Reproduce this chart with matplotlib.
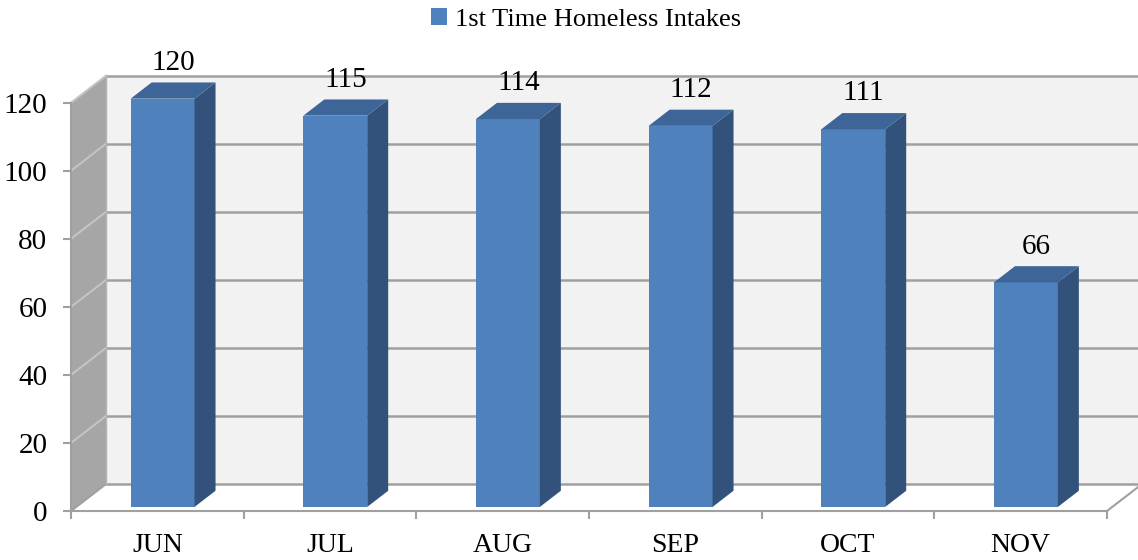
"""Excel-style 3D column chart of first-time homeless intakes, drawn in 2D."""

import matplotlib

matplotlib.use("Agg")
import matplotlib.pyplot as plt
from matplotlib.patches import Patch, Polygon, Rectangle

months = ["JUN", "JUL", "AUG", "SEP", "OCT", "NOV"]
intakes = [120, 115, 114, 112, 111, 66]
series_name = "1st Time Homeless Intakes"
y_ticks = [0, 20, 40, 60, 80, 100, 120]

FRONT = "#4F81BD"
SIDE = "#32527B"
TOP = "#3D6597"
WALL_BACK = "#F2F2F2"
WALL_LEFT = "#A6A6A6"
GRID = "#A0A0A0"

plt.rcParams["font.family"] = ["Liberation Serif", "DejaVu Serif"]

fig = plt.figure(figsize=(11.38, 5.6), dpi=100)
ax = fig.add_axes([71 / 1138, 49 / 560, 1036 / 1138, 408.3 / 560])
n = len(months)
ymax = y_ticks[-1]
ax.set_xlim(0, n)
ax.set_ylim(0, ymax)

# depth of the box in data units (3D offset of back wall)
DX = 35 / (1036 / n)
DY = 27 / (408.3 / ymax)

# back wall and left wall
ax.add_patch(Rectangle((DX, DY), n, ymax, facecolor=WALL_BACK, edgecolor="none",
                       zorder=0, clip_on=False))
ax.add_patch(Polygon([(0, 0), (DX, DY), (DX, ymax + DY), (0, ymax)], closed=True,
                     facecolor=WALL_LEFT, edgecolor="none", zorder=0, clip_on=False))
# floor
ax.add_patch(Polygon([(0, 0), (n, 0), (n + DX, DY), (DX, DY)], closed=True,
                     facecolor="white", edgecolor="none", zorder=0.5, clip_on=False))
ax.plot([n, n + DX], [0, DY], color=GRID, lw=1.5, zorder=1, clip_on=False)

for t in y_ticks:
    ax.plot([DX, n + DX], [t + DY, t + DY], color=GRID, lw=1.8, zorder=1, clip_on=False)
    ax.plot([0, DX], [t, t + DY], color="#C4C4C4" if t else GRID, lw=1.5, zorder=1,
            clip_on=False)
ax.plot([DX, DX], [DY, ymax + DY], color="#B5B5B5", lw=1, zorder=1, clip_on=False)

# bars
w = 0.37
f0, f1 = 0.15, 0.75
ddx, ddy = (f1 - f0) * DX, (f1 - f0) * DY
for i, v in enumerate(intakes):
    x0 = i + 0.5 - w / 2 + f0 * DX
    y0 = f0 * DY
    ax.add_patch(Rectangle((x0, y0), w, v, facecolor=FRONT, edgecolor="none",
                           zorder=3, clip_on=False))
    ax.add_patch(Polygon([(x0 + w, y0), (x0 + w + ddx, y0 + ddy),
                          (x0 + w + ddx, y0 + v + ddy), (x0 + w, y0 + v)],
                         closed=True, facecolor=SIDE, edgecolor="none", zorder=3,
                         clip_on=False))
    ax.add_patch(Polygon([(x0, y0 + v), (x0 + w, y0 + v),
                          (x0 + w + ddx, y0 + v + ddy), (x0 + ddx, y0 + v + ddy)],
                         closed=True, facecolor=TOP, edgecolor="none", zorder=3,
                         clip_on=False))
    ax.annotate(str(v), (i + 0.5 + (f0 + f1) / 2 * DX, v + (f0 + f1) / 2 * DY),
                xytext=(0, 20), textcoords="offset points", ha="center",
                va="center", fontsize=21, zorder=4, annotation_clip=False)

# axes
ax.set_facecolor("none")
for side in ("top", "right"):
    ax.spines[side].set_visible(False)
for side in ("left", "bottom"):
    ax.spines[side].set_color(GRID)
    ax.spines[side].set_linewidth(1.5)
    ax.spines[side].set_zorder(2)

ax.set_yticks(y_ticks)
ax.set_xticks(range(n + 1))
ax.set_xticklabels([])
ax.set_xticks([i + 0.5 for i in range(n)], minor=True)
ax.set_xticklabels(months, minor=True)
ax.tick_params(axis="y", length=6, width=1.5, color=GRID, labelsize=21, pad=11)
ax.tick_params(axis="x", which="major", length=6, width=1.5, color=GRID)
ax.tick_params(axis="x", which="minor", length=0, labelsize=20, pad=16)

fig.legend(handles=[Patch(facecolor=FRONT)], labels=[series_name],
           loc="upper center", bbox_to_anchor=(0.515, 1.028), frameon=False,
           fontsize=19, handlelength=0.6, handleheight=0.6, handletextpad=0.3)

fig.savefig("out.png", dpi=100)
